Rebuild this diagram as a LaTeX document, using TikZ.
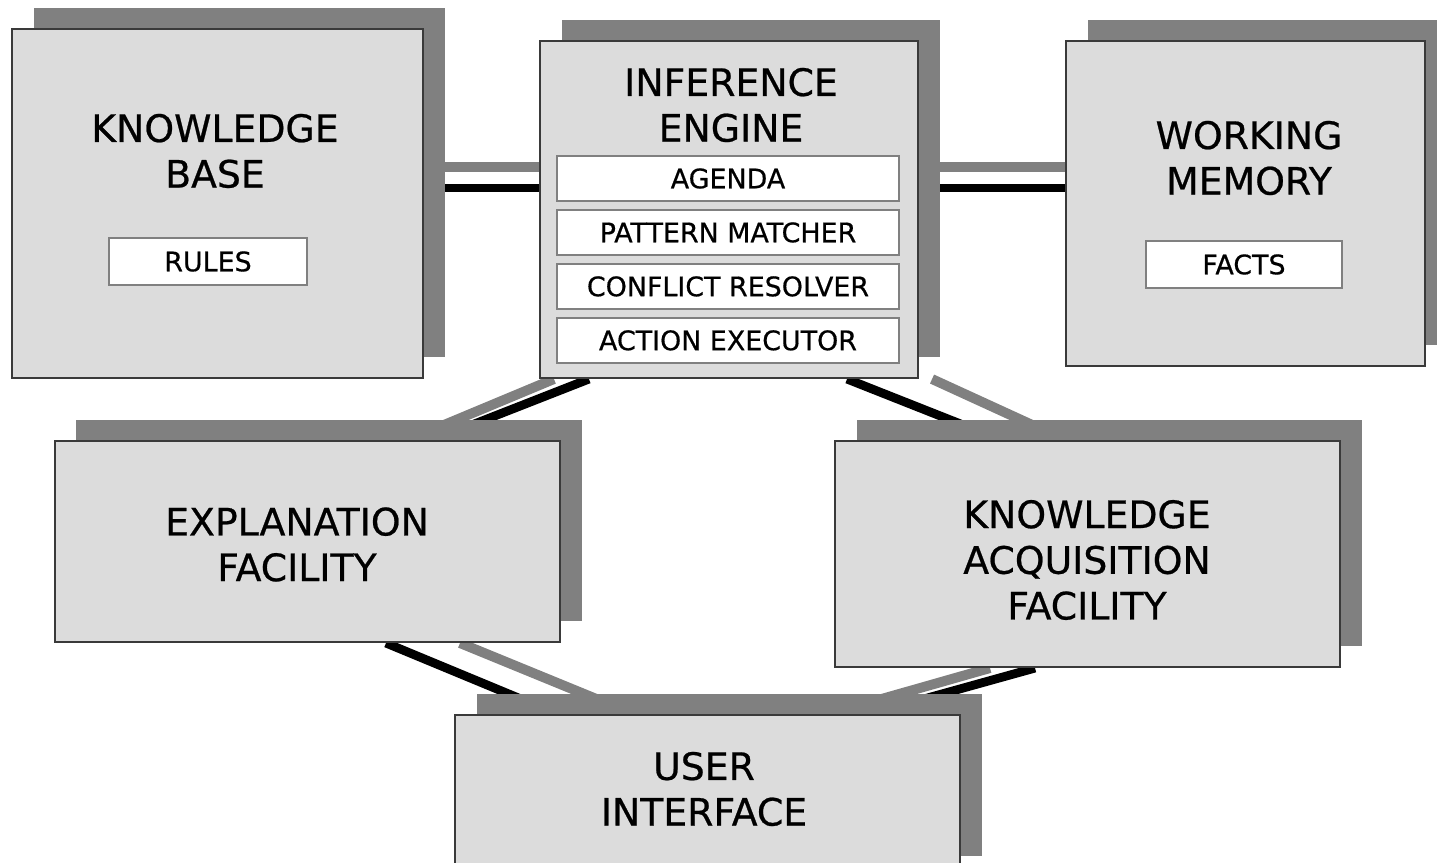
\documentclass[tikz,border=0pt]{standalone}
\usepackage{fontspec}
\setmainfont{DejaVu Sans}[FakeBold=0.6]
\usetikzlibrary{positioning,shadows,backgrounds}
\definecolor{panelgray}{HTML}{DCDCDC}
\definecolor{shadegray}{HTML}{808080}
\definecolor{framegray}{HTML}{3A3A3A}

\begin{document}
\begin{tikzpicture}[
    panel/.style={draw=framegray, line width=1.2pt, fill=panelgray, inner sep=0pt,
      drop shadow={shadow xshift=0.43cm, shadow yshift=0.43cm, fill=shadegray, opacity=1}},
    title/.style={align=center, font=\fontsize{21.5}{26}\selectfont},
    part/.style={draw=shadegray, line width=1.4pt, fill=white, inner sep=0pt, font=\fontsize{15.3}{18}\selectfont},
    stage/.style={part, minimum width=6.84cm, minimum height=0.9cm},
    darklink/.style={line width=5pt, black},
    lightlink/.style={line width=5.6pt, shadegray}
  ]
    \useasboundingbox (0,0) rectangle (28.74,-17.26);
    \node[panel, minimum width=8.22cm, minimum height=6.98cm] (kb) at (4.35,-4.07) {};
    \node[title] (kbtitle) at (4.3,-3.02) {KNOWLEDGE\\BASE};
    \node[part, minimum width=3.96cm, minimum height=0.94cm] (rules) at (4.16,-5.23) {RULES};
    \node[panel, minimum width=7.56cm, minimum height=6.74cm] (ie) at (14.58,-4.19) {};
    \node[title] (ietitle) at (14.62,-2.1) {INFERENCE\\ENGINE};
    \node[stage] (agenda) at (14.56,-3.57) {AGENDA};
    \node[stage, below=0.13cm of agenda] (matcher) {PATTERN MATCHER};
    \node[stage, below=0.13cm of matcher] (resolver) {CONFLICT RESOLVER};
    \node[stage, below=0.13cm of resolver] (executor) {ACTION EXECUTOR};
    \node[panel, minimum width=7.18cm, minimum height=6.5cm] (wm) at (24.91,-4.07) {};
    \node[title] (wmtitle) at (24.98,-3.16) {WORKING\\MEMORY};
    \node[part, minimum width=3.92cm, minimum height=0.94cm] (facts) at (24.88,-5.29) {FACTS};
    \node[panel, minimum width=10.1cm, minimum height=4.02cm] (ef) at (6.15,-10.83) {};
    \node[title] (eftitle) at (5.94,-10.89) {EXPLANATION\\FACILITY};
    \node[panel, minimum width=10.1cm, minimum height=4.52cm] (kaf) at (21.75,-11.08) {};
    \node[title] (kaftitle) at (21.74,-11.2) {KNOWLEDGE\\ACQUISITION\\FACILITY};
    \node[panel, minimum width=10.1cm, minimum height=3.24cm] (ui) at (14.15,-15.92) {};
    \node[title] (uititle) at (14.08,-15.78) {USER\\INTERFACE};
    \begin{scope}[on background layer]
      \draw[lightlink] ([yshift=0.73cm]kb.east) -- ([yshift=0.85cm]ie.west);
      \draw[darklink] ([yshift=0.31cm]kb.east) -- ([yshift=0.43cm]ie.west);
      \draw[lightlink] ([yshift=0.85cm]ie.east) -- ([yshift=0.73cm]wm.west);
      \draw[darklink] ([yshift=0.43cm]ie.east) -- ([yshift=0.31cm]wm.west);
      \draw[lightlink] ([xshift=0.3cm]ie.south west) -- ([xshift=-3.06cm]ef.north east);
      \draw[darklink] ([xshift=1.0cm]ie.south west) -- ([xshift=-2.55cm]ef.north east);
      \draw[darklink] ([xshift=-1.44cm]ie.south east) -- ([xshift=3.34cm]kaf.north west);
      \draw[lightlink] ([xshift=0.26cm]ie.south east) -- ([xshift=4.62cm]kaf.north west);
      \draw[darklink] ([xshift=1.57cm]ef.south) -- ([xshift=-3.01cm]ui.north);
      \draw[lightlink] ([xshift=3.05cm]ef.south) -- ([xshift=-1.49cm]ui.north);
      \draw[lightlink] ([xshift=-1.95cm]kaf.south) -- ([xshift=2.43cm]ui.north);
      \draw[darklink] ([xshift=-1.05cm]kaf.south) -- ([xshift=3.25cm]ui.north);
    \end{scope}
\end{tikzpicture}
\end{document}
